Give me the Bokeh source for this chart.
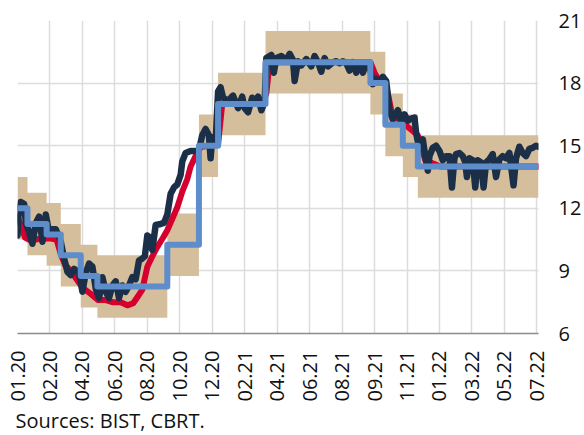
import math
from bokeh.plotting import figure
from bokeh.models import FixedTicker, Range1d, Title
from bokeh.embed import file_html
from bokeh.resources import INLINE

# ---------------- data (x = trading-day index from early Jan 2020) ----------------
tick_day = [0, 39, 78, 117, 156, 195, 234, 273, 312, 351, 390, 429, 468, 507, 546, 585, 624]
tick_labels = ["01.20", "02.20", "04.20", "06.20", "08.20", "10.20", "12.20", "02.21",
               "04.21", "06.21", "08.21", "09.21", "11.21", "01.22", "03.22", "05.22", "07.22"]
y_ticks = [6, 9, 12, 15, 18, 21]

# CBRT policy rate (one-week repo) and interest rate corridor
policy_day = [0, 12, 35, 52, 76, 96, 180, 218, 241, 298, 424, 442, 463, 481, 626]
policy_rate = [12, 11.25, 10.75, 9.75, 8.75, 8.25, 10.25, 15, 17, 19, 18, 16, 15, 14, 14]
corridor_upper = [13.5, 12.75, 12.25, 11.25, 10.25, 9.75, 11.75, 16.5, 18.5, 20.5, 19.5, 17.5, 16.5, 15.5, 15.5]
corridor_lower = [10.5, 9.75, 9.25, 8.25, 7.25, 6.75, 8.75, 13.5, 15.5, 17.5, 16.5, 14.5, 13.5, 12.5, 12.5]

# CBRT weighted average funding cost
wafc_day = [0, 4, 9, 16, 28, 40, 47, 52, 57, 64, 71, 78, 88, 97, 106, 114, 124, 132, 139, 145,
            150, 156, 162, 168, 175, 180, 186, 192, 198, 204, 208, 214, 220, 232, 241, 246, 255, 294, 299, 303,
            424, 429, 435, 442, 446, 450, 463, 481, 490, 508, 626]
wafc_rate = [11.6, 11.2, 10.6, 10.45, 10.55, 10.55, 10.5, 9.8, 9.3, 9.0, 8.6, 8.2, 7.9, 7.6, 7.6, 7.5, 7.5, 7.35, 7.45, 7.8,
             8.1, 9.2, 9.7, 10.15, 10.6, 10.95, 11.5, 12.05, 12.8, 13.4, 14.0, 14.5, 14.95, 15.0, 15.05, 17.0, 17.0, 17.0, 17.5, 19.0,
             19.0, 18.5, 18.1, 18.0, 17.3, 16.5, 16.1, 15.5, 14.3, 14.0, 14.0]

# BIST overnight repo rate
bist_day = [0, 1, 2, 4, 8, 10, 14, 18, 22, 26, 30, 34, 38, 42, 46, 50, 52, 56, 60, 64,
            68, 74, 78, 82, 86, 90, 94, 98, 102, 106, 110, 114, 118, 122, 126, 130, 134, 138, 142, 146,
            150, 153, 156, 159, 162, 166, 172, 176, 180, 184, 188, 192, 196, 198, 202, 208, 214, 218, 222, 226,
            230, 232, 234, 238, 241, 244, 247, 253, 259, 265, 270, 273, 277, 282, 285, 289, 293, 297, 299, 305,
            308, 311, 317, 323, 327, 331, 333, 337, 341, 347, 353, 357, 361, 365, 369, 373, 379, 383, 387, 391,
            395, 399, 403, 407, 411, 415, 419, 423, 427, 431, 435, 439, 443, 447, 451, 454, 457, 461, 465, 469,
            473, 477, 479, 483, 487, 490, 493, 495, 499, 503, 507, 511, 515, 519, 522, 525, 527, 531, 535, 538,
            540, 543, 547, 550, 553, 557, 560, 563, 567, 571, 575, 579, 583, 587, 591, 596, 599, 603, 607, 611,
            615, 619, 623, 626]
bist_rate = [10.7, 11.6, 11.8, 12.3, 12.2, 11.3, 10.85, 10.3, 11.3, 11.6, 10.4, 11.7, 10.85, 11.0, 11.0, 10.6, 10.4, 9.6, 8.95, 8.8,
             9.1, 8.9, 8.0, 8.9, 9.35, 9.2, 8.15, 7.7, 8.7, 8.0, 7.7, 8.3, 8.5, 7.7, 8.3, 8.0, 8.3, 8.7, 8.6, 9.5,
             9.6, 9.7, 10.7, 10.6, 10.0, 11.2, 11.25, 11.3, 11.7, 12.7, 13.0, 13.15, 13.6, 14.25, 14.65, 14.75, 14.75, 14.8, 15.5, 15.8,
             15.5, 14.4, 15.4, 15.1, 17.6, 17.8, 17.3, 17.15, 17.4, 16.8, 17.35, 16.8, 16.6, 17.3, 17.15, 17.35, 16.7, 17.1, 19.2, 19.35,
             18.5, 19.2, 19.3, 19.1, 19.4, 19.1, 18.1, 19.05, 18.85, 19.15, 18.8, 19.3, 19.0, 18.55, 19.2, 18.8, 19.0, 19.05, 18.95, 19.05,
             18.95, 18.6, 19.0, 18.5, 18.95, 18.5, 18.9, 18.9, 17.95, 18.2, 18.05, 18.3, 18.1, 16.7, 16.25, 16.5, 16.7, 16.2, 16.5, 16.2,
             16.3, 16.35, 15.6, 14.8, 15.3, 14.5, 13.8, 14.5, 14.9, 15.0, 14.75, 14.3, 14.5, 14.5, 13.0, 14.4, 14.6, 14.65, 14.5, 14.2,
             13.5, 14.4, 14.3, 13.0, 14.3, 14.2, 13.0, 14.2, 14.35, 14.6, 13.5, 14.35, 14.5, 14.4, 14.65, 13.1, 14.4, 14.95, 14.65, 14.5,
             14.85, 14.9, 15.0, 14.95]

source_note = "Sources: BIST, CBRT."

# ---------------- figure ----------------
FONT = "Open Sans"
p = figure(width=584, height=435, output_backend="svg", toolbar_location=None,
           x_range=Range1d(0, 626), y_range=Range1d(6, 21),
           y_axis_location="right",
           min_border_left=17, min_border_top=20, min_border_right=45, min_border_bottom=102)
p.outline_line_color = None
p.background_fill_color = "white"
p.border_fill_color = "white"

p.varea_step(x=policy_day, y1=corridor_lower, y2=corridor_upper, step_mode="after",
             fill_color="#D5BE9B", fill_alpha=1.0)
p.line(wafc_day, wafc_rate, line_color="#D6002E", line_width=6, line_join="round", line_cap="round")
p.line(bist_day, bist_rate, line_color="#1B3048", line_width=6.5, line_join="round", line_cap="round")
p.step(policy_day, policy_rate, mode="after", line_color="#5D8DCA", line_width=6, line_join="round")

# x axis
xa = p.xaxis[0]
xa.ticker = FixedTicker(ticks=tick_day)
xa.major_label_overrides = {d: lab for d, lab in zip(tick_day, tick_labels)}
xa.major_label_orientation = math.pi / 2
xa.major_label_text_font = FONT
xa.major_label_text_font_size = "20px"
xa.major_label_text_color = "#111111"
xa.major_label_standoff = 17
xa.major_tick_in = 0
xa.major_tick_out = 0
xa.minor_tick_line_color = None
xa.axis_line_color = "#8C8C8C"
xa.axis_line_width = 1.5

# y axis (right)
ya = p.yaxis[0]
ya.ticker = FixedTicker(ticks=y_ticks)
ya.major_label_text_font = FONT
ya.major_label_text_font_size = "20px"
ya.major_label_text_color = "#111111"
ya.major_label_standoff = 20
ya.major_tick_in = 0
ya.major_tick_out = 0
ya.minor_tick_line_color = None
ya.axis_line_color = None

p.xgrid.grid_line_color = "#DCDCDC"
p.xgrid.grid_line_width = 1.5
p.ygrid.grid_line_color = "#DCDCDC"
p.ygrid.grid_line_width = 1.5

note = Title(text=source_note, align="left", text_font=FONT, text_font_size="20px",
             text_font_style="normal", text_color="#111111", standoff=0, offset=-2)
p.add_layout(note, "below")

open("out.html", "w").write(file_html(p, INLINE))
